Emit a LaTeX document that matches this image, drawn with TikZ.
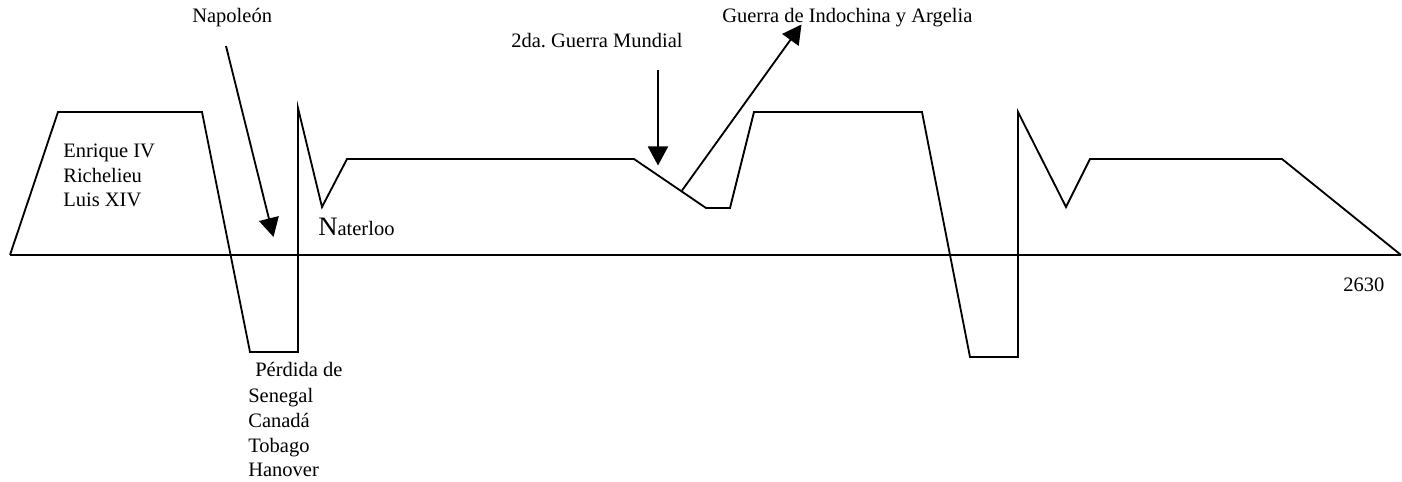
\documentclass[tikz,border=0pt]{standalone}
\usepackage{fontspec}
\setmainfont{Liberation Serif}
\usetikzlibrary{arrows.meta}
\begin{document}
\begin{tikzpicture}[x=0.6pt,y=-0.6pt,
  curve/.style={line width=1.1pt,line join=miter},
  pointer/.style={line width=1.1pt,-{Triangle[length=11.4pt,width=12pt]}},
  lbl/.style={anchor=base west,inner sep=0pt,font=\fontsize{12.3}{14.4}\selectfont}]
\useasboundingbox (0,0) rectangle (1402,482);
% baseline
\coordinate (b0) at (10,255);
\coordinate (b1) at (1401,255);
\draw[curve] (b0) -- (b1);
% curve
\draw[curve] (b0) -- (58,112) -- (202,112) -- (250,352) -- (298,352) -- (298,108)
  -- (322,207) -- (347,159) -- (634,159) -- (706,208) -- (730,208) -- (754,112)
  -- (922,112) -- (970,357) -- (1018,357) -- (1018,112) -- (1066,207) -- (1090,159)
  -- (1282,159) -- (b1);
% labels
\node[lbl] (nap) at (192,23) {Napoleón};
\node[lbl] (ww2) at (511,48) {2da.\ Guerra Mundial};
\node[lbl] (ind) at (722,23) {Guerra de Indochina y Argelia};
\node[lbl] (e1) at (63,158) {Enrique IV};
\node[lbl] (e2) at (63,182.5) {Richelieu};
\node[lbl] (e3) at (63,206.5) {Luis XIV};
\node[lbl] (wat) at (318,236) {{\fontsize{16}{19}\selectfont N}aterloo};
\node[lbl] (p1) at (255,377) {Pérdida de};
\node[lbl] (p2) at (248,402.5) {Senegal};
\node[lbl] (p3) at (248,427) {Canadá};
\node[lbl] (p4) at (248,452) {Tobago};
\node[lbl] (p5) at (248,477) {Hanover};
\node[lbl] (yr) at (1343,292) {2630};
% arrows
\coordinate (a1s) at (226,46);
\coordinate (a1e) at (273.5,237);
\coordinate (a2s) at (658,70);
\coordinate (a2e) at (658,165.5);
\coordinate (a3s) at (682,190.5);
\coordinate (a3e) at (801.5,24.5);
\draw[pointer] (a1s) -- (a1e);
\draw[pointer] (a2s) -- (a2e);
\draw[pointer] (a3s) -- (a3e);
\end{tikzpicture}
\end{document}
